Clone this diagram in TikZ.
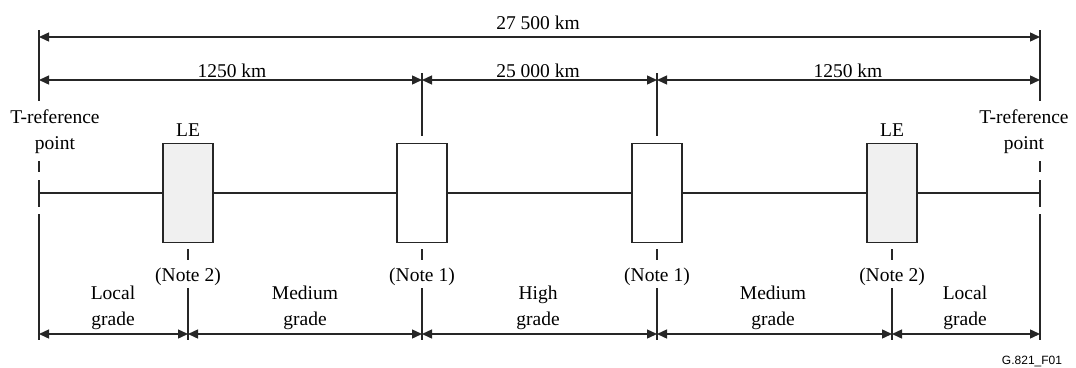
\documentclass[tikz,border=0pt]{standalone}
\usepackage{fontspec}
\setmainfont{Liberation Serif}
\newfontfamily\figsans{Liberation Sans}
\usetikzlibrary{arrows.meta}
\begin{document}
\begin{tikzpicture}[x=1pt,y=-1pt,
  ln/.style={draw=black!85,line width=1.4pt},
  dim/.style={ln,{Triangle[length=10pt,width=9pt]}-{Triangle[length=10pt,width=9pt]}},
  boxw/.style={draw=black!85,line width=1.4pt,minimum width=50pt,minimum height=99pt,inner sep=0pt,fill=white},
  boxg/.style={boxw,fill=black!6},
  lbl/.style={font=\fontsize{19.5}{26}\selectfont,inner sep=0pt,align=center},
  tag/.style={font=\figsans\fontsize{12}{14}\selectfont,inner sep=0pt},
]
\useasboundingbox (0,0) rectangle (1076,367);

% boxes
\node[boxg] (le1) at (188,193) {};
\node[boxw] (n1)  at (422,193) {};
\node[boxw] (n2)  at (657,193) {};
\node[boxg] (le2) at (892,193) {};

% reference coordinates
\coordinate (Lm) at (39,193);
\coordinate (Rm) at (1040,193);

% main line
\draw[ln] (Lm) -- (le1.west);
\draw[ln] (le1.east) -- (n1.west);
\draw[ln] (n1.east) -- (n2.west);
\draw[ln] (n2.east) -- (le2.west);
\draw[ln] (le2.east) -- (Rm);

% left and right T-reference lines (interrupted)
\foreach \x in {39,1040}{
  \draw[ln] (\x,30) -- (\x,101);
  \draw[ln] (\x,161) -- (\x,172);
  \draw[ln] (\x,180) -- (\x,207);
  \draw[ln] (\x,214) -- (\x,340);
}

% ticks above the note boxes
\draw[ln] (422,73) -- (422,136);
\draw[ln] (657,73) -- (657,136);

% ticks below boxes
\foreach \x in {188,422,657,892}{
  \draw[ln] (\x,249) -- (\x,260);
  \draw[ln] (\x,288) -- (\x,340);
}

% dimension arrows: top
\coordinate (T0) at (39,37);
\coordinate (T1) at (1040,37);
\draw[dim] (T0) -- (T1);

% second row
\coordinate (A0) at (39,80);
\coordinate (A1) at (422,80);
\coordinate (A2) at (657,80);
\coordinate (A3) at (1040,80);
\draw[dim] (A0) -- (A1);
\draw[dim] (A1) -- (A2);
\draw[dim] (A2) -- (A3);

% bottom row
\coordinate (B0) at (39,334);
\coordinate (B1) at (188,334);
\coordinate (B2) at (422,334);
\coordinate (B3) at (657,334);
\coordinate (B4) at (892,334);
\coordinate (B5) at (1040,334);
\draw[dim] (B0) -- (B1);
\draw[dim] (B1) -- (B2);
\draw[dim] (B2) -- (B3);
\draw[dim] (B3) -- (B4);
\draw[dim] (B4) -- (B5);

% labels
\node[lbl] (d0) at (538,23) {27 500 km};
\node[lbl] (d1) at (232,71) {1250 km};
\node[lbl] (d2) at (538,71) {25 000 km};
\node[lbl] (d3) at (848,71) {1250 km};

\node[lbl] (tl) at (55,132) {T-reference\\point};
\node[lbl] (tr) at (1024,132) {T-reference\\point};

\node[lbl] (lel1) at (188,130) {LE};
\node[lbl] (lel2) at (892,130) {LE};

\node[lbl] (nt1) at (188,277) {(Note 2)};
\node[lbl] (nt2) at (422,277) {(Note 1)};
\node[lbl] (nt3) at (657,277) {(Note 1)};
\node[lbl] (nt4) at (892,277) {(Note 2)};

\node[lbl] (g1) at (113,308) {Local\\grade};
\node[lbl] (g2) at (305,308) {Medium\\grade};
\node[lbl] (g3) at (538,308) {High\\grade};
\node[lbl] (g4) at (773,308) {Medium\\grade};
\node[lbl] (g5) at (965,308) {Local\\grade};

\node[tag] (fig) at (1032,361) {G.821\_F01};
\end{tikzpicture}
\end{document}
